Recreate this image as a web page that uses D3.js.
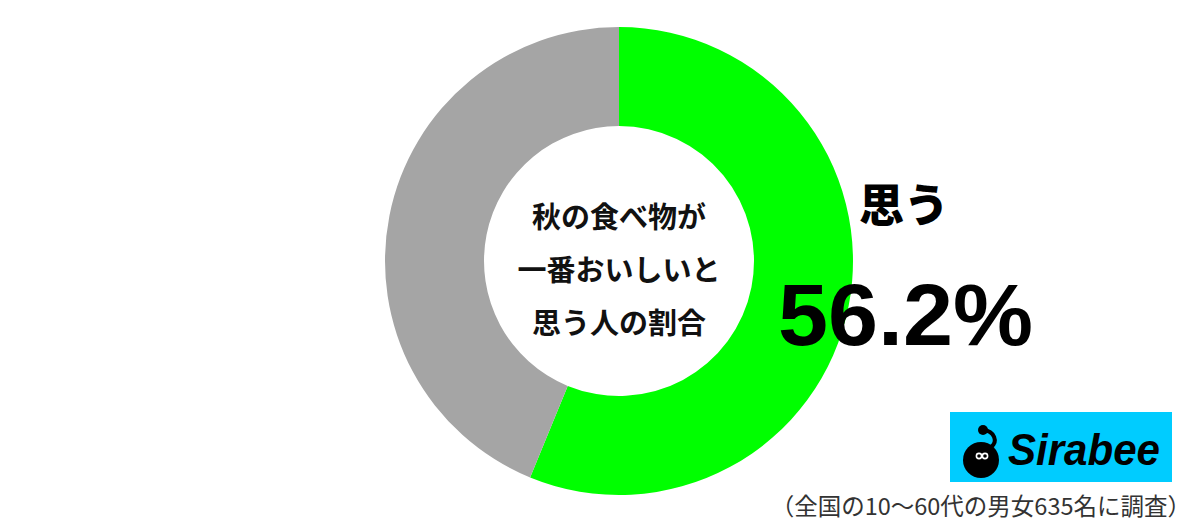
<!DOCTYPE html>
<html>
<head>
<meta charset="utf-8">
<script src="https://cdn.jsdelivr.net/npm/d3@7"></script>
<style>
  html, body { margin: 0; padding: 0; background: #fff; }
  svg { display: block; }
</style>
</head>
<body>
<svg id="chart" width="1200" height="522"></svg>
<script>
const categories = ["思う", "思わない"];
const values = [56.2, 43.8];
const colors = ["#00ff00", "#a5a5a5"];
const centerLines = ["秋の食べ物が", "一番おいしいと", "思う人の割合"];
const highlightLabel = "思う";
const highlightValue = "56.2%";
const note = "（全国の10～60代の男女635名に調査）";
const brand = "Sirabee";

const svg = d3.select("#chart");
const cx = 619, cy = 261, R = 234, r = 135;

const pie = d3.pie().sort(null).value(d => d.v).startAngle(0).endAngle(2 * Math.PI);
const arcs = pie(categories.map((c, i) => ({ c, v: values[i], col: colors[i] })));
const arc = d3.arc().innerRadius(r).outerRadius(R);

const g = svg.append("g").attr("transform", `translate(${cx},${cy})`);
g.selectAll("path").data(arcs).join("path")
  .attr("d", arc)
  .attr("fill", d => d.data.col);

// center text
const jp = "'Noto Sans CJK JP', sans-serif";
g.selectAll("text.center").data(centerLines).join("text")
  .attr("class", "center")
  .attr("x", 0)
  .attr("y", (d, i) => -46 + i * 53)
  .attr("text-anchor", "middle")
  .attr("dominant-baseline", "central")
  .attr("font-family", jp)
  .attr("font-weight", 700)
  .attr("font-size", 29)
  .attr("fill", "#111")
  .text(d => d);

// highlight label
svg.append("text")
  .attr("x", 859).attr("y", 202)
  .attr("dominant-baseline", "central")
  .attr("font-family", jp)
  .attr("font-weight", 900)
  .attr("font-size", 45)
  .attr("fill", "#000")
  .text(highlightLabel);

svg.append("text")
  .attr("x", 778).attr("y", 345)
  .attr("font-family", "'Liberation Sans', Arial, sans-serif")
  .attr("font-weight", 700)
  .attr("font-size", 87)
  .attr("textLength", 255)
  .attr("lengthAdjust", "spacingAndGlyphs")
  .attr("fill", "#000")
  .text(highlightValue);

// logo
const logo = svg.append("g");
logo.append("rect").attr("x", 950).attr("y", 412).attr("width", 222).attr("height", 70).attr("fill", "#00ccff");
logo.append("circle").attr("cx", 981).attr("cy", 460).attr("r", 18).attr("fill", "#000");
logo.append("circle").attr("cx", 983).attr("cy", 430).attr("r", 5).attr("fill", "#000");
logo.append("path")
  .attr("d", "M983,430 C995,431 998,442 991,447")
  .attr("stroke", "#000").attr("stroke-width", 4).attr("fill", "none").attr("stroke-linecap", "round");
logo.append("circle").attr("cx", 979).attr("cy", 456).attr("r", 2.6).attr("fill", "none").attr("stroke", "#fff").attr("stroke-width", 1.6);
logo.append("circle").attr("cx", 985).attr("cy", 456).attr("r", 2.6).attr("fill", "none").attr("stroke", "#fff").attr("stroke-width", 1.6);
logo.append("text")
  .attr("x", 1008).attr("y", 465)
  .attr("font-family", "'Liberation Sans', Arial, sans-serif")
  .attr("font-weight", 700)
  .attr("font-style", "italic")
  .attr("font-size", 44)
  .attr("textLength", 152)
  .attr("lengthAdjust", "spacingAndGlyphs")
  .attr("fill", "#000")
  .text(brand);

svg.append("text")
  .attr("x", 1191).attr("y", 505)
  .attr("text-anchor", "end")
  .attr("dominant-baseline", "central")
  .attr("font-family", jp)
  .attr("font-size", 23.5)
  .attr("fill", "#333")
  .text(note);
</script>
</body>
</html>
